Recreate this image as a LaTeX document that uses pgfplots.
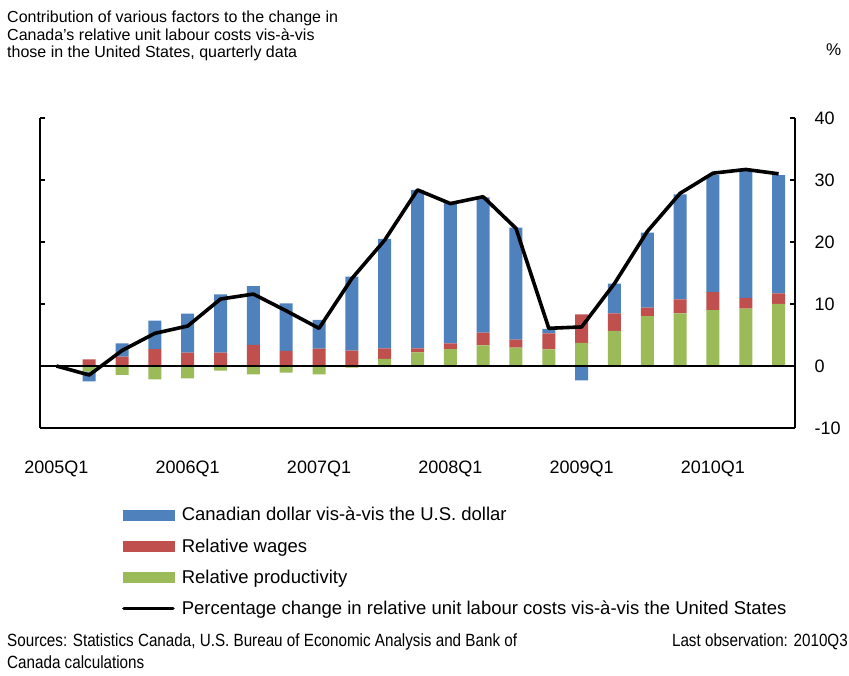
\documentclass[border=0pt]{standalone}
\usepackage{fontspec}
\setmainfont{Liberation Sans}
\newfontfamily\narrowfont[FakeStretch=0.86]{Liberation Sans}
\usepackage{pgfplots}
\usepackage{pgfplotstable}
\pgfplotsset{compat=1.18}

\definecolor{cblue}{HTML}{4F81BD}
\definecolor{cred}{HTML}{C0504D}
\definecolor{cgreen}{HTML}{9BBB59}

% quarter index: 0 = 2005Q1 ... 22 = 2010Q3
% positive parts of each contribution
\pgfplotstableread{
q  green  red   blue
0  0      0     0
1  0      1.08  0
2  0      1.50  2.16
3  0      2.74  4.56
4  0      2.15  6.29
5  0      2.15  9.41
6  0      3.39  9.51
7  0      2.42  7.68
8  0      2.80  4.65
9  0      2.47  11.93
10 1.13   1.72  17.65
11 2.20   0.65  25.55
12 2.74   0.92  22.64
13 3.33   2.05  21.82
14 2.96   1.29  18.05
15 2.69   2.58  0.70
16 3.71   4.62  0
17 5.65   2.84  4.81
18 8.06   1.35  12.09
19 8.49   2.26  16.95
20 9.03   2.87  18.90
21 9.25   1.75  20.60
22 10.00  1.70  19.10
}\pos

% negative parts of each contribution
\pgfplotstableread{
q  green  red  blue
0  0      0    0
1  -0.90  0    -1.60
2  -1.45  0    0
3  -2.15  0    0
4  -1.99  0    0
5  -0.75  0    0
6  -1.34  0    0
7  -1.08  0    0
8  -1.34  0    0
9  -0.27  0    0
10 0      0    0
11 0      0    0
12 0      0    0
13 0      0    0
14 0      0    0
15 0      0    0
16 0      0    -2.31
17 0      0    0
18 0      0    0
19 0      0    0
20 0      0    0
21 0      0    0
22 0      0    0
}\neg

% percentage change in relative unit labour costs
\pgfplotstableread{
q  total
0  0
1  -1.45
2  2.50
3  5.27
4  6.45
5  10.80
6  11.60
7  8.90
8  6.08
9  14.10
10 20.30
11 28.40
12 26.20
13 27.30
14 22.20
15 6.08
16 6.30
17 13.30
18 21.70
19 27.85
20 31.10
21 31.70
22 31.00
}\ulc

\pgfplotsset{
  base/.style={
    at={(40pt,247pt)}, anchor=south west,
    scale only axis, width=755pt, height=310pt,
    xmin=-0.5, xmax=22.5, ymin=-10, ymax=40,
    clip=false,
  },
  bars/.style={
    base, ybar stacked, bar width=13pt,
    hide axis,
  },
}

\begin{document}
\begin{tikzpicture}
\path[use as bounding box] (0,0) rectangle (849pt,675pt);

% positive stacks
\begin{axis}[bars]
\addplot[fill=cgreen, draw=none] table[x=q, y=green] {\pos};
\addplot[fill=cred, draw=none] table[x=q, y=red] {\pos};
\addplot[fill=cblue, draw=none] table[x=q, y=blue] {\pos};
\end{axis}

% negative stacks
\begin{axis}[bars]
\addplot[fill=cgreen, draw=none] table[x=q, y=green] {\neg};
\addplot[fill=cred, draw=none] table[x=q, y=red] {\neg};
\addplot[fill=cblue, draw=none] table[x=q, y=blue] {\neg};
\end{axis}

% left axis line with inward ticks
\begin{axis}[base,
  axis x line=none, axis y line*=left,
  ytick={-10,0,...,40}, yticklabels={},
  tick align=inside, major tick length=5pt,
  axis line style={line width=1.6pt},
  every tick/.style={line width=1.2pt, black},
]
\end{axis}

% right axis, bottom line, zero line, unit labour cost line, legend
\begin{axis}[base,
  axis x line*=bottom, axis y line*=right,
  axis line style={line width=1.6pt},
  ytick={-10,0,...,40},
  tick align=inside, major tick length=5pt,
  every tick/.style={line width=1.2pt, black},
  major x tick style={draw=none},
  xtick={0,4,8,12,16,20},
  xticklabels={2005Q1,2006Q1,2007Q1,2008Q1,2009Q1,2010Q1},
  /pgf/number format/assume math mode=true,
  tick label style={font=\fontsize{18}{21}\selectfont},
  yticklabel style={anchor=west, xshift=16pt},
  xticklabel style={yshift=-29pt},
  legend cell align=left,
  legend style={at={(axis description cs:0.1086,-0.255)}, anchor=north west,
    draw=none, fill=none, inner sep=0pt, row sep=16.3pt,
    nodes={inner sep=0pt},
    font=\fontsize{18.5}{21}\selectfont},
]
\draw[line width=2pt] (axis cs:-0.5,0) -- (axis cs:22.5,0);
\addlegendimage{legend image code/.code={\fill[cblue] (0pt,-5pt) rectangle (51pt,5pt); \path (57pt,0pt);}}
\addlegendentry{Canadian dollar vis-à-vis the U.S. dollar}
\addlegendimage{legend image code/.code={\fill[cred] (0pt,-5pt) rectangle (51pt,5pt); \path (57pt,0pt);}}
\addlegendentry{Relative wages}
\addlegendimage{legend image code/.code={\fill[cgreen] (0pt,-5pt) rectangle (51pt,5pt); \path (57pt,0pt);}}
\addlegendentry{Relative productivity}
\addplot[black, line width=3.6pt, line join=round, mark=none,
  legend image code/.code={\draw[black, line width=3.6pt, line cap=round] (1pt,0pt) -- (50pt,0pt); \path (57pt,0pt);}]
  table[x=q, y=total] {\ulc};
\addlegendentry{Percentage change in relative unit labour costs vis-à-vis the United States}
\end{axis}

% title and unit
\node[anchor=north west, align=left, inner sep=0pt,
  font=\fontsize{16}{17.6}\selectfont] at (7pt,664pt)
  {Contribution of various factors to the change in\\
   Canada's relative unit labour costs vis-à-vis\\
   those in the United States, quarterly data};
\node[anchor=west, inner sep=0pt, font=\fontsize{17}{19}\selectfont] at (826pt,625pt) {\%};

% footnotes
\node[anchor=north west, align=left, inner sep=0pt,
  font=\narrowfont\fontsize{17.7}{22}\selectfont] at (7pt,42pt)
  {Sources: Statistics Canada, U.S. Bureau of Economic Analysis and Bank of\\
   Canada calculations};
\node[anchor=north east, inner sep=0pt,
  font=\narrowfont\fontsize{17.7}{22}\selectfont] at (848pt,42pt)
  {Last observation: 2010Q3};
\end{tikzpicture}
\end{document}
